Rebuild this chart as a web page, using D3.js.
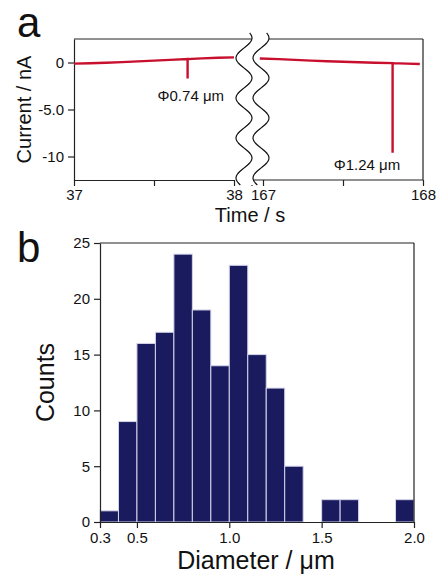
<!DOCTYPE html>
<html>
<head>
<meta charset="utf-8">
<script src="https://cdn.jsdelivr.net/npm/d3@7"></script>
<style>
  body { margin: 0; background: #fff; }
  svg text { font-family: "Liberation Sans", Arial, sans-serif; fill: #111; }
</style>
</head>
<body>
<div id="wrapper"></div>
<script>
// panel a: current trace, two segments either side of the axis break
const leftTime = [37.0, 37.1, 37.2, 37.3, 37.4, 37.5, 37.6, 37.71, 37.71, 37.71, 37.8, 37.9, 38.0]
const leftCurrent = [-0.12, -0.08, -0.03, 0.04, 0.12, 0.2, 0.28, 0.37, -1.7, 0.37, 0.44, 0.5, 0.55]
const rightTime = [166.98, 167.1, 167.2, 167.3, 167.4, 167.5, 167.6, 167.7, 167.81, 167.81, 167.81, 167.9, 167.98]
const rightCurrent = [0.42, 0.36, 0.28, 0.2, 0.14, 0.08, 0.03, -0.02, -0.07, -9.6, -0.07, -0.12, -0.16]
const spikeLabels = [
  { side: "left", t: 37.73, text: "Φ0.74 μm", dy: 38 },
  { side: "right", t: 167.65, text: "Φ1.24 μm", dy: 107 },
]
const currentTicks = [0, -5, -10]
const currentTickLabels = ["0", "-5.0", "-10"]
const leftTicks = [37, 37.5, 38]
const rightTicks = [167, 167.5, 168]

// panel b: diameter histogram, bins of 0.1 µm starting at 0.3
const binStarts = [0.3, 0.4, 0.5, 0.6, 0.7, 0.8, 0.9, 1.0, 1.1, 1.2, 1.3, 1.4, 1.5, 1.6, 1.7, 1.8, 1.9]
const binCounts = [1, 9, 16, 17, 24, 19, 14, 23, 15, 12, 5, 0, 2, 2, 0, 0, 2]
const diameterTicks = [0.3, 0.5, 1.0, 1.5, 2.0]
const diameterTickLabels = ["0.3", "0.5", "1.0", "1.5", "2.0"]
const countTicks = [0, 5, 10, 15, 20, 25]

const axisColor = "#222"
const traceColor = "#c8102e"
const barColor = "#1a1b5e"

const svg = d3.select("#wrapper")
  .append("svg")
    .attr("width", 436)
    .attr("height", 576)

function styleAxis(g) {
  g.select(".domain").attr("stroke", axisColor).attr("stroke-width", 1.2)
  g.selectAll(".tick line").attr("stroke", axisColor).attr("stroke-width", 1.2)
  g.selectAll(".tick text").attr("fill", "#111")
}

// ---------- panel a ----------
const a = { left: 74, right: 423, top: 39, bottom: 180 }
const xLeft = d3.scaleLinear().domain([37, 38]).range([74, 234])
const xRight = d3.scaleLinear().domain([167, 168]).range([263, 423])
const yCur = d3.scaleLinear().domain([-12.5, 2.5]).range([a.bottom, a.top])

const topPanel = svg.append("g")

// y axis
topPanel.append("g")
  .attr("transform", `translate(${a.left},0)`)
  .call(d3.axisLeft(yCur).tickValues(currentTicks)
    .tickFormat((d, i) => currentTickLabels[i]).tickSize(6).tickSizeOuter(0).tickPadding(4))
  .attr("font-size", 15)
  .call(styleAxis)

// x axes, left and right segments
topPanel.append("g")
  .attr("transform", `translate(0,${a.bottom})`)
  .call(d3.axisBottom(xLeft).tickValues(leftTicks)
    .tickFormat(d => d === 37.5 ? "" : d3.format("d")(d)).tickSize(6).tickSizeOuter(0).tickPadding(3))
  .attr("font-size", 15)
  .call(styleAxis)

const rightAxis = topPanel.append("g")
  .attr("transform", `translate(0,${a.bottom})`)
  .call(d3.axisBottom(xRight).tickValues(rightTicks)
    .tickFormat(d => d === 167.5 ? "" : d3.format("d")(d)).tickSize(6).tickSizeOuter(0).tickPadding(3))
  .attr("font-size", 15)
  .call(styleAxis)
rightAxis.select(".domain").attr("d", `M252,6V0H${a.right}`)

// box: top and right lines
topPanel.append("line")
  .attr("x1", a.left).attr("x2", a.right).attr("y1", a.top).attr("y2", a.top)
  .attr("stroke", axisColor).attr("stroke-width", 1.2)
topPanel.append("line")
  .attr("x1", a.right).attr("x2", a.right).attr("y1", a.top).attr("y2", a.bottom)
  .attr("stroke", axisColor).attr("stroke-width", 1.2)

// traces
const leftLine = d3.line().x(d => xLeft(d[0])).y(d => yCur(d[1]))
const rightLine = d3.line().x(d => xRight(d[0])).y(d => yCur(d[1]))
topPanel.append("path")
  .datum(d3.zip(leftTime, leftCurrent))
  .attr("d", leftLine)
  .attr("fill", "none").attr("stroke", traceColor).attr("stroke-width", 2.4)
topPanel.append("path")
  .datum(d3.zip(rightTime, rightCurrent))
  .attr("d", rightLine)
  .attr("fill", "none").attr("stroke", traceColor).attr("stroke-width", 2.4)

// spike labels
topPanel.selectAll(".spike-label")
  .data(spikeLabels)
  .join("text")
    .attr("class", "spike-label")
    .attr("x", d => (d.side === "left" ? xLeft : xRight)(d.t))
    .attr("y", d => yCur(0) + d.dy)
    .attr("text-anchor", "middle")
    .style("font-size", "15px")
    .text(d => d.text)

// axis break: white band between two wavy lines
const waveY = d3.range(33, 185.5, 1)
const waveX = y => 244 - 8 * Math.cos(2 * Math.PI * (y - 58) / 40)
const gap = 17
const band = waveY.map(y => [waveX(y), y]).concat(waveY.slice().reverse().map(y => [waveX(y) + gap, y]))
topPanel.append("path")
  .attr("d", d3.line()(band) + "Z")
  .attr("fill", "#fff").attr("stroke", "none")
;[0, gap].forEach(off => {
  topPanel.append("path")
    .attr("d", d3.line().curve(d3.curveBasis)(waveY.map(y => [waveX(y) + off, y])))
    .attr("fill", "none").attr("stroke", "#111").attr("stroke-width", 1.2)
})

// titles
topPanel.append("text")
  .attr("x", 17).attr("y", 37)
  .style("font-size", "42px")
  .text("a")
topPanel.append("text")
  .attr("transform", `translate(31,${(a.top + a.bottom) / 2}) rotate(-90)`)
  .attr("text-anchor", "middle")
  .style("font-size", "20px")
  .text("Current / nA")
topPanel.append("text")
  .attr("x", 250).attr("y", 222)
  .attr("text-anchor", "middle")
  .style("font-size", "20px")
  .text("Time / s")

// ---------- panel b ----------
const b = { left: 100, right: 414, top: 243, bottom: 522 }
const xDia = d3.scaleLinear().domain([0.3, 2.0]).range([b.left, b.right])
const yCount = d3.scaleLinear().domain([0, 25]).range([b.bottom, b.top])

const bottomPanel = svg.append("g")

bottomPanel.selectAll("rect")
  .data(d3.zip(binStarts, binCounts).filter(d => d[1] > 0))
  .join("rect")
    .attr("x", d => xDia(d[0]))
    .attr("width", d => xDia(d[0] + 0.1) - xDia(d[0]))
    .attr("y", d => yCount(d[1]))
    .attr("height", d => yCount(0) - yCount(d[1]))
    .attr("fill", barColor)
    .attr("stroke", "#d4d4ea")
    .attr("stroke-width", 1)

bottomPanel.append("g")
  .attr("transform", `translate(${b.left},0)`)
  .call(d3.axisLeft(yCount).tickValues(countTicks).tickSize(6).tickSizeOuter(0).tickPadding(4))
  .attr("font-size", 15)
  .call(styleAxis)

bottomPanel.append("g")
  .attr("transform", `translate(0,${b.bottom})`)
  .call(d3.axisBottom(xDia).tickValues(diameterTicks)
    .tickFormat((d, i) => diameterTickLabels[i]).tickSize(6).tickSizeOuter(0).tickPadding(4))
  .attr("font-size", 15)
  .call(styleAxis)

bottomPanel.append("line")
  .attr("x1", b.left).attr("x2", b.right).attr("y1", b.top).attr("y2", b.top)
  .attr("stroke", axisColor).attr("stroke-width", 1.2)
bottomPanel.append("line")
  .attr("x1", b.right).attr("x2", b.right).attr("y1", b.top).attr("y2", b.bottom)
  .attr("stroke", axisColor).attr("stroke-width", 1.2)

bottomPanel.append("text")
  .attr("x", 17).attr("y", 262)
  .style("font-size", "42px")
  .text("b")
bottomPanel.append("text")
  .attr("transform", `translate(54,${(b.top + b.bottom) / 2}) rotate(-90)`)
  .attr("text-anchor", "middle")
  .style("font-size", "25px")
  .text("Counts")
bottomPanel.append("text")
  .attr("x", 256).attr("y", 569)
  .attr("text-anchor", "middle")
  .style("font-size", "25px")
  .text("Diameter / μm")
</script>
</body>
</html>
